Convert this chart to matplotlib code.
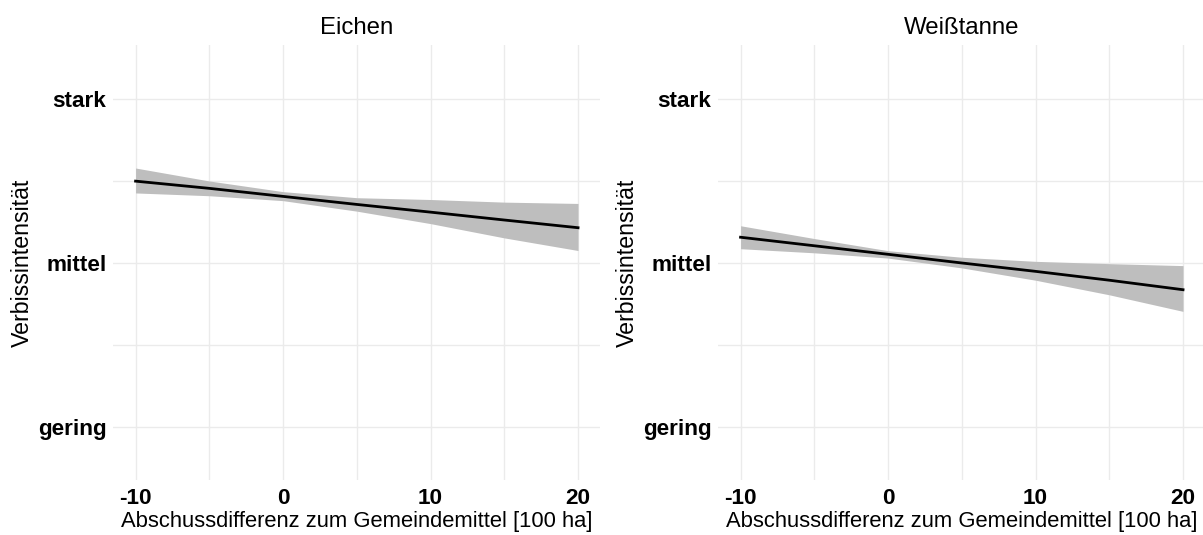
import matplotlib
matplotlib.use('Agg')

import numpy as np
import matplotlib.pyplot as plt

# data
x_pts = [-10, -5, 0, 5, 10, 15, 20]

eichen_fit = [2.499, 2.455, 2.406, 2.357, 2.310, 2.262, 2.215]
eichen_lo = [2.427, 2.410, 2.380, 2.316, 2.240, 2.153, 2.076]
eichen_hi = [2.579, 2.500, 2.435, 2.398, 2.387, 2.371, 2.363]

tanne_fit = [2.157, 2.105, 2.053, 2.000, 1.949, 1.895, 1.837]
tanne_lo = [2.087, 2.062, 2.030, 1.970, 1.895, 1.806, 1.705]
tanne_hi = [2.227, 2.149, 2.075, 2.035, 2.010, 1.996, 1.984]

panel_titles = ["Eichen", "Weißtanne"]
y_ticks = [1, 2, 3]
y_labels = ["gering", "mittel", "stark"]
x_ticks = [-10, 0, 10, 20]

FONT = 'Liberation Sans'
FS = 15.8

plt.rcParams['axes.unicode_minus'] = False


def draw_panel(ax, fit, lo, hi, title):
    ax.fill_between(x_pts, lo, hi, color='#bebebe', linewidth=0, zorder=2)
    ax.plot(x_pts, fit, color='black', linewidth=2.0, zorder=3)

    ax.set_xlim(-11.5, 21.5)
    ax.set_ylim(0.677, 3.329)

    ax.set_xticks(x_ticks)
    ax.set_xticks([-5, 5, 15], minor=True)
    ax.set_yticks(y_ticks)
    ax.set_yticklabels(y_labels)
    ax.set_yticks([1.5, 2.5], minor=True)

    ax.tick_params(which='both', length=0)
    ax.tick_params(axis='x', pad=6)
    ax.tick_params(axis='y', pad=5)
    for lab in ax.get_xticklabels() + ax.get_yticklabels():
        lab.set_fontweight('bold')
        lab.set_fontsize(16.2)
        lab.set_fontfamily(FONT)
        lab.set_color('black')

    ax.grid(True, which='both', color='#ebebeb', linewidth=1.0, zorder=0)
    ax.set_axisbelow(True)
    for sp in ax.spines.values():
        sp.set_visible(False)

    ax.set_title(title, fontsize=17.3, fontfamily=FONT, pad=8)
    ax.set_xlabel("Abschussdifferenz zum Gemeindemittel [100 ha]",
                  fontsize=FS, fontfamily=FONT, labelpad=1)
    ax.set_ylabel("Verbissintensität", fontsize=16.7, fontfamily=FONT,
                  labelpad=3)


fig = plt.figure(figsize=(12.03, 5.35), dpi=100)
ax1 = fig.add_axes([0.0943, 0.1028, 0.4046, 0.8131])
ax2 = fig.add_axes([0.5972, 0.1028, 0.4046, 0.8131])

draw_panel(ax1, eichen_fit, eichen_lo, eichen_hi, panel_titles[0])
draw_panel(ax2, tanne_fit, tanne_lo, tanne_hi, panel_titles[1])

fig.savefig('out.png', dpi=100)
